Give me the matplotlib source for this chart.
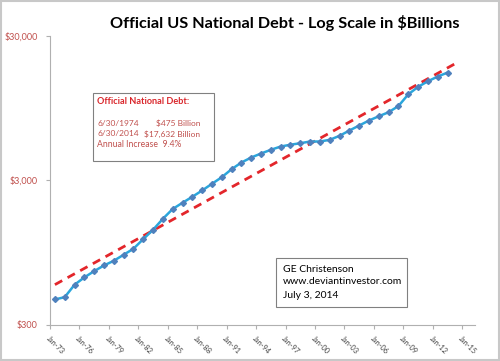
import matplotlib
matplotlib.use("Agg")
import matplotlib.pyplot as plt
from matplotlib.patches import Rectangle

plt.rcParams["font.family"] = ["Lato", "DejaVu Sans"]

# debt on June 30 of each year, $ billions
years = list(range(1973, 2014))
debt = [450, 467, 569, 640, 707, 774, 834, 918, 1010, 1178,
        1367, 1629, 1905, 2103, 2314, 2558, 2846, 3162, 3592, 3996,
        4329, 4614, 4893, 5158, 5307, 5436, 5586, 5586, 5738, 6118,
        6655, 7209, 7806, 8359, 8910, 9837, 11850, 13350, 14600, 15740,
        16770]

# exponential trend line end points
trend_years = [1973, 2014]
trend_debt = [570, 19700]

tick_years = list(range(1973, 2016, 3))
tick_labels = ["Jan-%02d" % (y % 100) for y in tick_years]
y_ticks = [300, 3000, 30000]
y_labels = ["$300", "$3,000", "$30,000"]

red = "#c0504d"

fig = plt.figure(figsize=(5, 3.61), dpi=100)
ax = fig.add_axes([0.1, 0.1, 0.85, 0.8])

x_data = [y + 0.5 for y in years]
x_trend = [y + 0.5 for y in trend_years]

ax.plot(x_trend, trend_debt, color="#e3262b", lw=2, ls=(0, (3, 2.2)), zorder=2)
ax.plot(x_data, debt, color="#2aa6dc", lw=1.8, marker="D", ms=3,
        mfc="#4f81bd", mec="#4f81bd", zorder=3)

ax.set_yscale("log")
ax.set_ylim(300, 30000)
ax.set_xlim(1973, 2016.3)
ax.set_yticks(y_ticks)
ax.set_yticklabels(y_labels, color=red, fontsize=6.5)
ax.minorticks_off()
ax.set_xticks(tick_years)
ax.set_xticklabels(tick_labels, rotation=-45, ha="left", va="top",
                   fontsize=5.3, color="#404040", rotation_mode="anchor")

for side in ["top", "right"]:
    ax.spines[side].set_visible(False)
for side in ["left", "bottom"]:
    ax.spines[side].set_color("#b0b0b0")
ax.tick_params(axis="both", color="#b0b0b0", length=3, width=0.8)
ax.tick_params(axis="x", pad=4)
ax.tick_params(axis="y", pad=6)

fig.text(0.569, 0.936, "Official US National Debt - Log Scale in $Billions",
         ha="center", va="center", fontsize=11.7, fontweight="bold")

# info box top-left
fig.patches.append(Rectangle((93 / 500, 1 - 161 / 361), 121 / 500, 68 / 361,
                             transform=fig.transFigure, fc="white",
                             ec="#808080", lw=0.8, zorder=5))
fig.text(97 / 500, 1 - 101 / 361, "Official National Debt:", color="#d9262b",
         fontsize=6.6, fontweight="bold", va="center", zorder=6)
fig.text(97 / 500, 1 - 123 / 361, "6/30/1974", color=red, fontsize=6.0,
         va="center", zorder=6)
fig.text(200 / 500, 1 - 123 / 361, "$475 Billion", color=red, fontsize=6.0,
         va="center", ha="right", zorder=6)
fig.text(97 / 500, 1 - 134 / 361, "6/30/2014", color=red, fontsize=6.0,
         va="center", zorder=6)
fig.text(200 / 500, 1 - 134 / 361, "$17,632 Billion", color=red, fontsize=6.0,
         va="center", ha="right", zorder=6)
fig.text(97 / 500, 1 - 145 / 361, "Annual Increase  9.4%", color=red,
         fontsize=6.2, va="center", zorder=6)

# author box bottom-right
fig.patches.append(Rectangle((276 / 500, 1 - 307 / 361), 131 / 500, 49 / 361,
                             transform=fig.transFigure, fc="white",
                             ec="#808080", lw=0.8, zorder=5))
for i, line in enumerate(["GE Christenson", "www.deviantinvestor.com", "July 3, 2014"]):
    fig.text(283 / 500, 1 - (269 + 13 * i) / 361, line, fontsize=7.5,
             va="center", color="black", zorder=6)

# outer frame
fig.patches.append(Rectangle((0.002, 0.003), 0.995, 0.994, transform=fig.transFigure,
                             fill=False, ec="#c8c8c8", lw=1.5))

fig.savefig("out.png", dpi=100)
